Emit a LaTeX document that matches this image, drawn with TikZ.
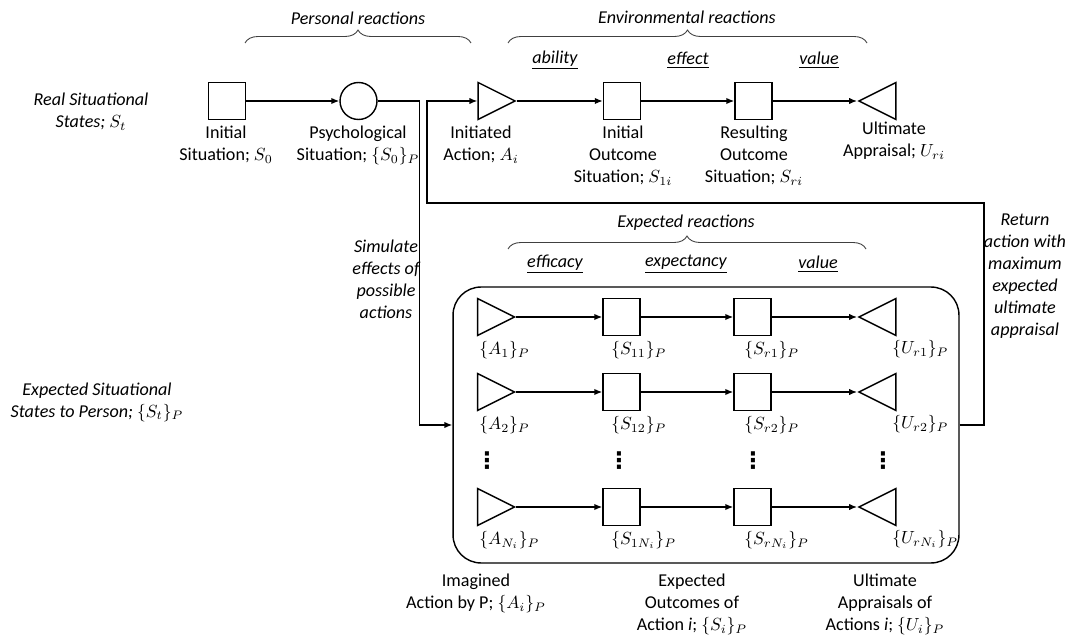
\documentclass[tikz,border=0pt]{standalone}
\usepackage{fontspec}
\setmainfont{Carlito}
\newfontfamily\dejavu{DejaVu Sans}
\usetikzlibrary{shapes.geometric,arrows.meta,decorations.pathreplacing}
\begin{document}
\begin{tikzpicture}[x=0.02cm,y=-0.02cm,
  every node/.style={font=\fontsize{10.3}{12.5}\selectfont},
  ln/.style={line width=0.8pt},
  arr/.style={ln,-{Latex[length=4.5pt,width=3.6pt]}},
  sq/.style={draw,ln,minimum size=0.74cm,inner sep=0},
  circ/.style={draw,ln,circle,minimum size=0.74cm,inner sep=0},
  tri/.style={draw,ln,isosceles triangle,isosceles triangle stretches,minimum width=0.74cm,minimum height=0.74cm,inner sep=0},
  trir/.style={tri,shape border rotate=180},
  lbl/.style={align=center,inner sep=0,anchor=north},
  it/.style={align=center,inner sep=0,font=\fontsize{10.3}{12.5}\selectfont\itshape},
  ml/.style={inner sep=0,anchor=west},
  dots/.style={inner sep=0,font=\fontsize{13}{13}\selectfont\dejavu\bfseries},
  brc/.style={draw,line width=0.5pt,black!75,decorate,decoration={brace,amplitude=0.26cm}},
]
\useasboundingbox (0,0) rectangle (1075,638);

% ---------- headings ----------
\node[it] (pr) at (358,18) {Personal reactions};
\node[it] (er) at (687,17) {Environmental reactions};
\coordinate (b1l) at (245,43); \coordinate (b1r) at (471,43);
\coordinate (b2l) at (508,43); \coordinate (b2r) at (867,43);
\coordinate (b3l) at (508,249); \coordinate (b3r) at (866,249);
\draw[brc] (b1l) -- (b1r);
\draw[brc] (b2l) -- (b2r);
\node[it] (abl) at (555,60) {\underline{ability}};
\node[it] (eff) at (688,60) {\underline{effect}};
\node[it] (val) at (819,60) {\underline{value}};

\node[it] (real) at (91,112) {Real Situational\\States; $S_t$};

% ---------- top row ----------
\node[sq] (s0) at (227,101) {};
\node[circ] (psy) at (358.5,101) {};
\node[tri] (Ai) at (489.5,101) {};
\node[sq] (S1i) at (622,101) {};
\node[sq] (Sri) at (753.5,101) {};
\node[trir] (Uri) at (884.5,101) {};

\draw[arr] (s0.east) -- (psy.west);
\draw[arr] (Ai.apex) -- (S1i.west);
\draw[arr] (S1i.east) -- (Sri.west);
\draw[arr] (Sri.east) -- (Uri.apex);

\node[lbl] (l0) at (226,126) {Initial\\Situation; $S_0$};
\node[lbl] (lp) at (358,126) {Psychological\\Situation; $\{S_0\}_P$};
\node[lbl] (la) at (481,126) {Initiated\\Action; $A_i$};
\node[lbl] (l1) at (623,126) {Initial\\Outcome\\Situation; $S_{1i}$};
\node[lbl] (lr) at (754,126) {Resulting\\Outcome\\Situation; $S_{ri}$};
\node[lbl] (lu) at (894,122) {Ultimate\\Appraisal; $U_{ri}$};

% ---------- expected part ----------
\node[it] (expr) at (686,223) {Expected reactions};
\draw[brc] (b3l) -- (b3r);
\node[it] (effi) at (555,264) {\underline{efficacy}};
\node[it] (expe) at (686,264) {\underline{expectancy}};
\node[it] (val2) at (818,264) {\underline{value}};

\node[draw,ln,rounded corners=0.56cm,minimum width=10.12cm,minimum height=5.52cm,inner sep=0] (box) at (706,425) {};

\foreach \r/\y/\s in {1/317/1,2/392/2,N/507/{N_i}}{
  \node[tri] (A\r) at (489,\y) {};
  \node[sq] (S1\r) at (621.5,\y) {};
  \node[sq] (Sr\r) at (752.5,\y) {};
  \node[trir] (U\r) at (884.5,\y) {};
  \draw[arr] (A\r.apex) -- (S1\r.west);
  \draw[arr] (S1\r.east) -- (Sr\r.west);
  \draw[arr] (Sr\r.east) -- (U\r.apex);
  \node[ml] (lA\r) at (479,\y+33) {$\{A_{\s}\}_P$};
  \node[ml] (lS1\r) at (611,\y+33) {$\{S_{1\s}\}_P$};
  \node[ml] (lSr\r) at (744,\y+33) {$\{S_{r\s}\}_P$};
  \node[ml] (lU\r) at (892,\y+32) {$\{U_{r\s}\}_P$};
}
\node[dots] (d1) at (487,461) {⋮};
\node[dots] (d2) at (619,461) {⋮};
\node[dots] (d3) at (753,461) {⋮};
\node[dots] (d4) at (883,461) {⋮};

\node[lbl] (bA) at (476,574) {Imagined\\Action by P; $\{A_i\}_P$};
\node[lbl] (bS) at (692,574) {Expected\\Outcomes of\\Action \textit{i}; $\{S_i\}_P$};
\node[lbl] (bU) at (885,574) {Ultimate\\Appraisals of\\Actions \textit{i}; $\{U_i\}_P$};

\node[it] (exps) at (97,402) {Expected Situational\\States to Person; $\{S_t\}_P$};
\node[it] (sim) at (386,279) {Simulate\\effects of\\possible\\actions};
\node[it] (ret) at (1025,276) {Return\\action with\\maximum\\expected\\ultimate\\appraisal};

% ---------- connectors ----------
\coordinate (c1) at (419.5,101);
\coordinate (c2) at (984,425);
\coordinate (c3) at (427,203);
\draw[arr] (psy.east) -- (c1) |- (box.west);
\draw[arr] (box.east) -- (c2) |- (c3) |- (Ai.west);
\end{tikzpicture}
\end{document}
